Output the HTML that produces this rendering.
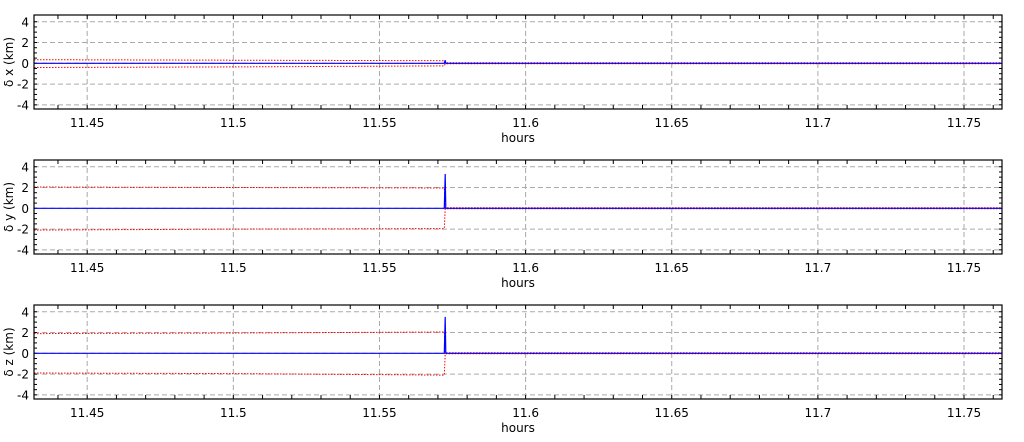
<!DOCTYPE html>
<html><head><meta charset="utf-8"><style>
html,body{margin:0;padding:0;background:#fff;}
svg{display:block;font-family:"DejaVu Sans","Liberation Sans",sans-serif;}
</style></head><body>
<svg id="chart" width="1024" height="442" viewBox="0 0 1024 442" xmlns="http://www.w3.org/2000/svg"></svg>
<script>
const xTicks = [11.45, 11.5, 11.55, 11.6, 11.65, 11.7, 11.75];
const xTickLabels = ["11.45","11.5","11.55","11.6","11.65","11.7","11.75"];
const yTicks = [-4,-2,0,2,4];
const panelNames = ["δ x (km)","δ y (km)","δ z (km)"];
const panelKeys = ["x","y","z"];
// times in hours
const times = [11.4318, 11.50, 11.572, 11.5722, 11.5725, 11.5727, 11.5735, 11.60, 11.70, 11.763];
// blue (solid) series per panel
const blueX = [0, 0, 0, 0, 0.3, 0, 0, 0, 0, 0];
const blueY = [0, 0, 0, 0, 3.3, 0, 0, 0, 0, 0];
const blueZ = [0, 0, 0, 0, 3.5, 0, 0, 0, 0, 0];
// red dotted upper/lower bounds per panel
const redUpX = [0.35, 0.3, 0.25, 0.25, 0.05, 0.05, 0.05, 0.05, 0.05, 0.05];
const redLoX = [-0.4, -0.35, -0.25, -0.25, -0.05, -0.05, -0.05, -0.05, -0.05, -0.05];
const redUpY = [2.05, 2.0, 1.95, 1.95, 0.05, 0.05, 0.05, 0.05, 0.05, 0.05];
const redLoY = [-2.1, -2.0, -1.95, -1.95, -0.05, -0.05, -0.05, -0.05, -0.05, -0.05];
const redUpZ = [1.9, 1.95, 2.05, 2.05, 0.05, 0.05, 0.05, 0.05, 0.05, 0.05];
const redLoZ = [-1.9, -1.95, -2.1, -2.1, -0.05, -0.05, -0.05, -0.05, -0.05, -0.05];
const blues = [blueX, blueY, blueZ];
const redUps = [redUpX, redUpY, redUpZ];
const redLos = [redLoX, redLoY, redLoZ];

const NS = "http://www.w3.org/2000/svg";
const svg = document.getElementById("chart");
const L = 34, R = 1002, xMin = 11.4318, xMax = 11.763;
const yMin = -4.4, yMax = 4.65;
const tops = [15, 160, 305], H = 94;
const sx = v => L + (v - xMin) / (xMax - xMin) * (R - L);
function mk(tag, attrs, parent){const e=document.createElementNS(NS,tag);for(const k in attrs)e.setAttribute(k,attrs[k]);(parent||svg).appendChild(e);return e;}

for (let p = 0; p < 3; p++) {
  const T = tops[p], B = T + H;
  const sy = v => B - (v - yMin) / (yMax - yMin) * H;
  const g = mk("g", {});
  
  
  yTicks.forEach(t => {
    const l = mk("line", {x1:L,x2:R,y1:sy(t),y2:sy(t),stroke:"#aaa","stroke-width":1,"stroke-dasharray":"5,3"}, g);
    
    
    const tk = mk("text", {x:L-5,y:sy(t)+4.5,"text-anchor":"end","font-size":12,fill:"#000"}, g);
    tk.textContent = t;
    
    
  });
  for (let t = -4; t <= 4; t += 0.5) {
    mk("line", {x1:L,x2:L+3,y1:sy(t),y2:sy(t),stroke:"#000"}, g);
    mk("line", {x1:R-3,x2:R,y1:sy(t),y2:sy(t),stroke:"#000"}, g);
  }
  xTicks.forEach((t, i) => {
    const l = mk("line", {x1:sx(t),x2:sx(t),y1:T,y2:B,stroke:"#aaa","stroke-width":1,"stroke-dasharray":"5,3"}, g);
    
    
    const tk = mk("text", {x:sx(t),y:B+18,"text-anchor":"middle","font-size":12,fill:"#000"}, g);
    tk.textContent = xTickLabels[i];
    
    
  });
  for (let t = 11.44; t < 11.765; t += 0.01) {
    mk("line", {x1:sx(t),x2:sx(t),y1:T,y2:T+4,stroke:"#000"}, g);
    mk("line", {x1:sx(t),x2:sx(t),y1:B-4,y2:B,stroke:"#000"}, g);
  }
  const pts = arr => arr.map((v,i)=>sx(times[i]).toFixed(1)+","+sy(v).toFixed(1)).join(" ");
  const ru = mk("polyline", {points:pts(redUps[p]),fill:"none",stroke:"#f00","stroke-width":1,"stroke-dasharray":"1.5,1.5"}, g);
  
  
  const rl = mk("polyline", {points:pts(redLos[p]),fill:"none",stroke:"#f00","stroke-width":1,"stroke-dasharray":"1.5,1.5"}, g);
  
  
  const bl = mk("polyline", {points:pts(blues[p]),fill:"none",stroke:"#00f","stroke-width":1.2}, g);
  
  
  const fr = mk("rect", {x:L,y:T,width:R-L,height:H,fill:"none",stroke:"#000","stroke-width":1.2}, g);
  
  
  const yl = mk("text", {x:0,y:0,"text-anchor":"middle","font-size":12,fill:"#000",transform:`translate(13,${T+H/2}) rotate(-90)`}, g);
  yl.textContent = panelNames[p];
  
  
  const xl = mk("text", {x:(L+R)/2,y:B+33,"text-anchor":"middle","font-size":12,fill:"#000"}, g);
  xl.textContent = "hours";
  
  
}
</script>
</body></html>
